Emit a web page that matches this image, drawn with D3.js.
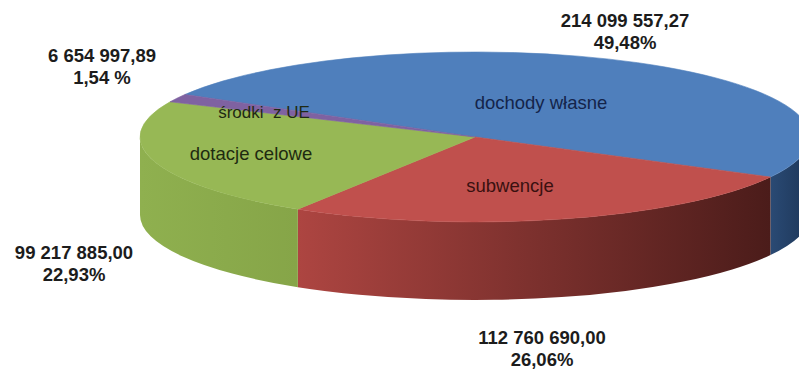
<!DOCTYPE html>
<html lang="pl">
<head>
<meta charset="utf-8">
<script src="https://cdn.jsdelivr.net/npm/d3@7"></script>
<style>
  html, body { margin: 0; padding: 0; background: #fff; }
  svg { display: block; font-family: "Liberation Sans", Arial, sans-serif; }
</style>
</head>
<body>
<svg id="chart" width="799" height="369"></svg>
<script>
// Budget revenue structure (PLN)
const categories = ["dochody własne", "subwencje", "dotacje celowe", "środki  z UE"];
const amounts = [214099557.27, 112760690.00, 99217885.00, 6654997.89];
const pctSuffix = ["%", "%", "%", " %"];

// Colours: top faces and side walls
const topColors = ["#4f7fbc", "#c0504d", "#97b855", "#7f62a1"];
const sideColors = [["#2a4a74", "#1d3658"], ["#ad4541", "#4b1c1a"], ["#8fb04f", "#86a548"], ["#5e4778", "#4a3860"]];
const innerTextColors = ["#14244a", "#3a1010", "#1e2a10", "#1f2a14"];

// Geometry of the tilted disc
const geo = { cx: 475, cy: 137, rx: 335, ry: 85, depth: 78 };

// Text placement
const innerPos = [[541, 109], [510, 192], [251, 160], [264, 118]];
const outerPos = [[625, 27], [542, 344], [74, 259], [102, 62]];
const outerGap = 22;

const plFormat = d3.formatLocale({ decimal: ",", thousands: "\u00a0", grouping: [3], currency: ["", " zł"] });
const fmtAmount = plFormat.format(",.2f");
const fmtPct = plFormat.format(".2f");

const svg = d3.select("#chart");
const defs = svg.append("defs");

const total = d3.sum(amounts);
const startDeg = -60;
const pie = d3.pie().sort(null).value(d => d)
  .startAngle(startDeg * Math.PI / 180)
  .endAngle(startDeg * Math.PI / 180 + 2 * Math.PI);
const arcs = pie(amounts);

// Ellipse point for a d3 pie angle (clockwise from 12 o'clock)
const pt = (a, dy = 0) => [geo.cx + geo.rx * Math.sin(a), geo.cy - geo.ry * Math.cos(a) + dy];

function topPath(a0, a1) {
  const p = d3.path();
  const s = pt(a0), e = pt(a1);
  p.moveTo(geo.cx, geo.cy);
  p.lineTo(s[0], s[1]);
  const large = (a1 - a0) > Math.PI ? 1 : 0;
  return p.toString() + `A${geo.rx},${geo.ry} 0 ${large} 1 ${e[0]},${e[1]}Z`;
}

function sidePath(a0, a1) {
  const s = pt(a0), e = pt(a1), sb = pt(a0, geo.depth), eb = pt(a1, geo.depth);
  return `M${s[0]},${s[1]}A${geo.rx},${geo.ry} 0 0 1 ${e[0]},${e[1]}` +
         `L${eb[0]},${eb[1]}A${geo.rx},${geo.ry} 0 0 0 ${sb[0]},${sb[1]}Z`;
}

// Front-facing walls: the part of each slice between 3 and 9 o'clock
const visLo = Math.PI / 2, visHi = 3 * Math.PI / 2;
const gSide = svg.append("g");
arcs.forEach((d, i) => {
  [-2 * Math.PI, 0, 2 * Math.PI].forEach(shift => {
    const a0 = Math.max(d.startAngle + shift, visLo);
    const a1 = Math.min(d.endAngle + shift, visHi);
    if (a1 - a0 <= 1e-6) return;
    const x0 = pt(a0)[0], x1 = pt(a1)[0];
    const gid = `side-${i}-${Math.round(shift)}`;
    const lg = defs.append("linearGradient").attr("id", gid)
      .attr("gradientUnits", "userSpaceOnUse")
      .attr("x1", Math.min(x0, x1)).attr("x2", Math.max(x0, x1)).attr("y1", 0).attr("y2", 0);
    const [c0, c1] = sideColors[i];
    // light edge is on the left for every wall
    lg.append("stop").attr("offset", 0).attr("stop-color", c0);
    lg.append("stop").attr("offset", 1).attr("stop-color", c1);
    gSide.append("path").attr("d", sidePath(a0, a1)).attr("fill", `url(#${gid})`);
  });
});

// Top faces
const gTop = svg.append("g");
arcs.forEach((d, i) => {
  gTop.append("path").attr("d", topPath(d.startAngle, d.endAngle))
    .attr("fill", topColors[i]).attr("stroke", topColors[i]).attr("stroke-width", 0.6);
});

// Category names on the slices
svg.append("g").selectAll("text").data(categories).join("text")
  .attr("x", (d, i) => innerPos[i][0]).attr("y", (d, i) => innerPos[i][1])
  .attr("text-anchor", "middle")
  .attr("font-size", (d, i) => i === 3 ? 17 : 18.5)
  .attr("fill", (d, i) => innerTextColors[i])
  .style("white-space", "pre")
  .attr("xml:space", "preserve")
  .text(d => d);

// Amount and share labels
const gOut = svg.append("g").attr("font-weight", "bold").attr("font-size", 18.5).attr("fill", "#1c1c1c");
arcs.forEach((d, i) => {
  const t = gOut.append("text").attr("text-anchor", "middle");
  t.append("tspan").attr("x", outerPos[i][0]).attr("y", outerPos[i][1]).text(fmtAmount(amounts[i]));
  t.append("tspan").attr("x", outerPos[i][0]).attr("y", outerPos[i][1] + outerGap)
    .text(fmtPct(amounts[i] / total * 100) + pctSuffix[i]);
});
</script>
</body>
</html>
